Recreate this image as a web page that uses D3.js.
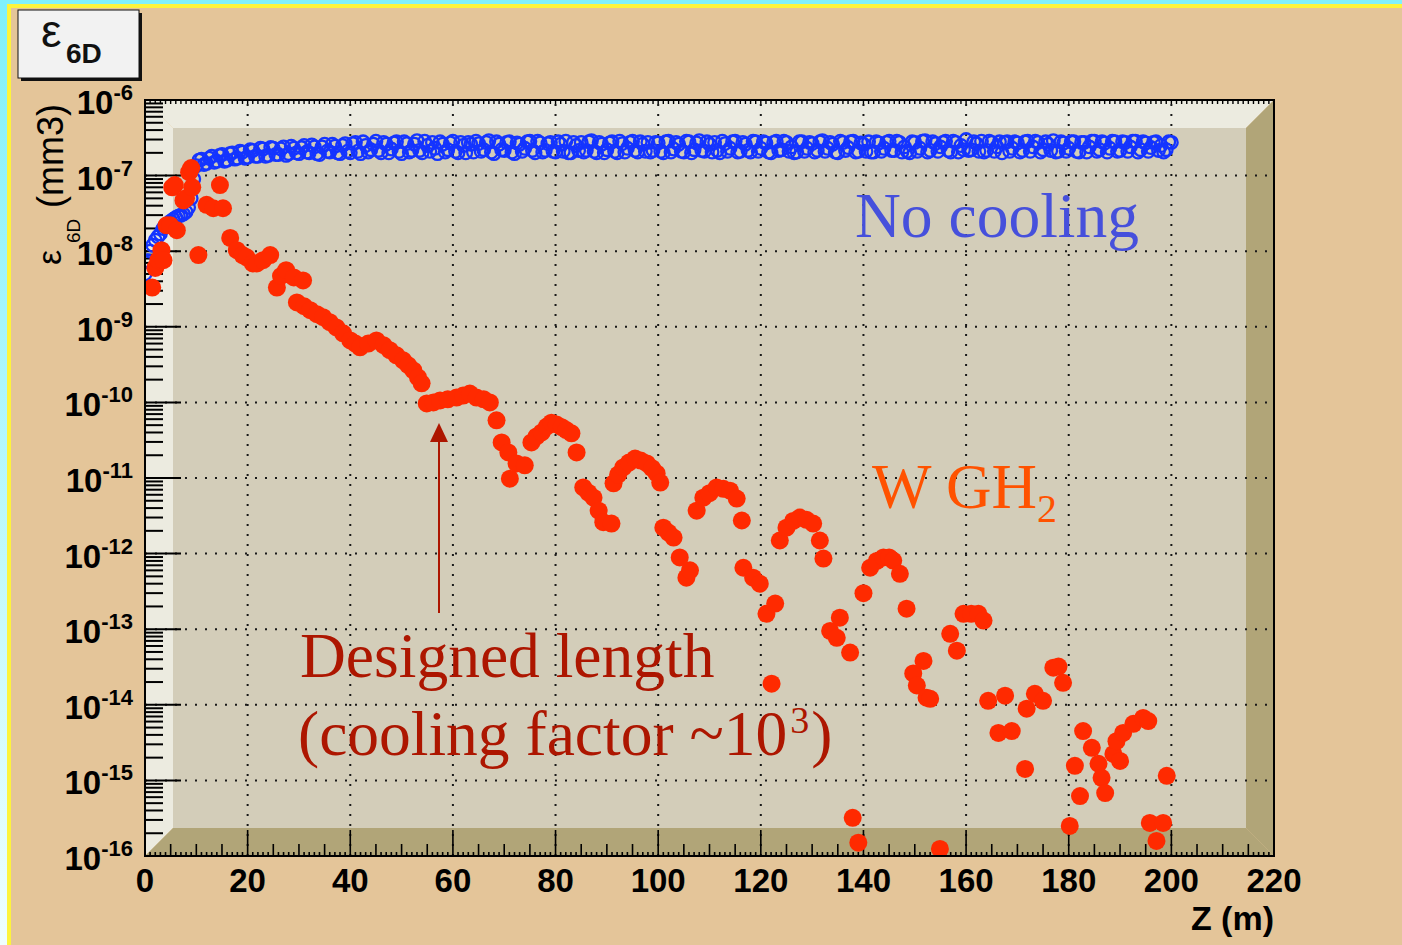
<!DOCTYPE html>
<html>
<head>
<meta charset="utf-8">
<script src="https://cdn.jsdelivr.net/npm/d3@7"></script>
<style>
    body { margin: 0; background: #e4c599; }
    svg { display: block; }
</style>
</head>
<body>
<svg id="chart" width="1402" height="945"></svg>
<script>
// "No cooling" run, samples at z = 0, 1, 2 ... 200
let blueValues = [
    5.0e-9, 1.0e-8, 1.4e-8, 1.7e-8, 2.2e-8, 2.5e-8, 2.8e-8, 3.0e-8, 3.3e-8, 5.0e-8,
    1.35e-7, 1.65e-7, 1.45e-7, 1.8e-7, 1.55e-7, 1.9e-7, 1.6e-7, 2.0e-7, 1.7e-7, 2.05e-7,
    1.75e-7, 2.15e-7, 1.8e-7, 2.25e-7, 1.85e-7, 2.3e-7, 1.9e-7, 2.4e-7, 1.95e-7, 2.3e-7,
    1.95e-7, 2.5e-7, 2.0e-7, 2.4e-7, 1.9e-7, 2.6e-7, 2.05e-7, 2.45e-7, 1.95e-7, 2.65e-7,
    2.0e-7, 2.75e-7, 1.95e-7, 2.5e-7, 2.2e-7, 2.85e-7, 2.0e-7, 2.6e-7, 2.25e-7, 2.8e-7,
    1.95e-7, 2.65e-7, 2.15e-7, 2.9e-7, 2.0e-7, 2.5e-7, 2.75e-7, 1.95e-7, 2.6e-7, 2.2e-7,
    2.85e-7, 2.0e-7, 2.5e-7, 2.75e-7, 2.05e-7, 2.65e-7, 2.2e-7, 2.9e-7, 1.95e-7, 2.6e-7,
    2.15e-7, 2.8e-7, 1.95e-7, 2.6e-7, 2.3e-7, 2.85e-7, 2.0e-7, 2.7e-7, 2.15e-7, 2.75e-7,
    2.05e-7, 2.6e-7, 2.85e-7, 2.0e-7, 2.5e-7, 2.75e-7, 2.15e-7, 2.9e-7, 2.0e-7, 2.6e-7,
    2.2e-7, 2.8e-7, 2.0e-7, 2.65e-7, 2.3e-7, 2.85e-7, 2.05e-7, 2.6e-7, 2.75e-7, 2.15e-7,
    2.7e-7, 2.0e-7, 2.85e-7, 2.25e-7, 2.6e-7, 2.05e-7, 2.8e-7, 2.2e-7, 2.9e-7, 2.1e-7,
    2.6e-7, 2.75e-7, 2.0e-7, 2.65e-7, 2.3e-7, 2.85e-7, 2.1e-7, 2.6e-7, 2.05e-7, 2.8e-7,
    2.3e-7, 2.7e-7, 2.0e-7, 2.85e-7, 2.2e-7, 2.75e-7, 2.4e-7, 2.05e-7, 2.8e-7, 2.3e-7,
    2.65e-7, 2.15e-7, 2.9e-7, 2.3e-7, 2.6e-7, 2.0e-7, 2.75e-7, 2.35e-7, 2.85e-7, 2.1e-7,
    2.6e-7, 2.8e-7, 2.05e-7, 2.7e-7, 2.3e-7, 2.85e-7, 2.15e-7, 2.75e-7, 2.4e-7, 2.0e-7,
    2.75e-7, 2.3e-7, 2.9e-7, 2.15e-7, 2.65e-7, 2.4e-7, 2.85e-7, 2.05e-7, 2.75e-7, 2.5e-7,
    3.0e-7, 2.2e-7, 2.65e-7, 2.85e-7, 2.15e-7, 2.75e-7, 2.4e-7, 2.0e-7, 2.8e-7, 2.3e-7,
    2.7e-7, 2.15e-7, 2.85e-7, 2.4e-7, 2.75e-7, 2.2e-7, 2.6e-7, 2.9e-7, 2.1e-7, 2.7e-7,
    2.3e-7, 2.8e-7, 2.05e-7, 2.75e-7, 2.4e-7, 2.85e-7, 2.2e-7, 2.7e-7, 2.3e-7, 2.8e-7,
    2.15e-7, 2.75e-7, 2.4e-7, 2.85e-7, 2.2e-7, 2.7e-7, 2.35e-7, 2.8e-7, 2.5e-7, 2.2e-7,
    2.75e-7
]
// same run, samples at z = 0.5, 1.5 ... 199.5
let blueHalfValues = [
    7.5e-9, 1.2e-8, 1.55e-8, 2.0e-8, 2.35e-8, 2.65e-8, 2.9e-8, 3.1e-8, 3.8e-8, 9.0e-8,
    1.6e-7, 1.4e-7, 1.7e-7, 1.5e-7, 1.85e-7, 1.55e-7, 1.95e-7, 1.65e-7, 2.1e-7, 1.7e-7,
    2.2e-7, 1.8e-7, 2.3e-7, 1.8e-7, 2.35e-7, 1.9e-7, 2.25e-7, 1.85e-7, 2.45e-7, 2.0e-7,
    2.35e-7, 2.05e-7, 2.55e-7, 1.95e-7, 2.4e-7, 2.1e-7, 2.6e-7, 2.0e-7, 2.5e-7, 2.1e-7,
    2.65e-7, 2.1e-7, 2.8e-7, 2.05e-7, 2.6e-7, 2.15e-7, 2.75e-7, 2.0e-7, 2.7e-7, 2.1e-7,
    2.8e-7, 2.05e-7, 2.6e-7, 2.15e-7, 2.85e-7, 2.1e-7, 2.3e-7, 2.8e-7, 2.05e-7, 2.7e-7,
    2.1e-7, 2.75e-7, 2.0e-7, 2.6e-7, 2.85e-7, 2.1e-7, 2.75e-7, 2.05e-7, 2.8e-7, 2.2e-7,
    2.75e-7, 2.05e-7, 2.7e-7, 2.1e-7, 2.8e-7, 2.15e-7, 2.85e-7, 2.05e-7, 2.65e-7, 2.1e-7,
    2.8e-7, 2.1e-7, 2.0e-7, 2.75e-7, 2.15e-7, 2.05e-7, 2.8e-7, 2.1e-7, 2.75e-7, 2.0e-7,
    2.7e-7, 2.1e-7, 2.85e-7, 2.05e-7, 2.75e-7, 2.15e-7, 2.8e-7, 2.1e-7, 2.05e-7, 2.75e-7,
    2.1e-7, 2.8e-7, 2.05e-7, 2.75e-7, 2.1e-7, 2.85e-7, 2.0e-7, 2.7e-7, 2.15e-7, 2.8e-7,
    2.05e-7, 2.15e-7, 2.85e-7, 2.1e-7, 2.8e-7, 2.05e-7, 2.75e-7, 2.15e-7, 2.85e-7, 2.1e-7,
    2.8e-7, 2.05e-7, 2.75e-7, 2.15e-7, 2.85e-7, 2.1e-7, 2.0e-7, 2.8e-7, 2.1e-7, 2.75e-7,
    2.05e-7, 2.8e-7, 2.1e-7, 2.75e-7, 2.05e-7, 2.85e-7, 2.15e-7, 2.8e-7, 2.05e-7, 2.7e-7,
    2.1e-7, 2.05e-7, 2.8e-7, 2.1e-7, 2.75e-7, 2.15e-7, 2.85e-7, 2.05e-7, 2.1e-7, 2.8e-7,
    2.1e-7, 2.85e-7, 2.05e-7, 2.8e-7, 2.1e-7, 2.75e-7, 2.15e-7, 2.85e-7, 2.05e-7, 2.2e-7,
    2.15e-7, 2.8e-7, 2.1e-7, 2.05e-7, 2.85e-7, 2.1e-7, 2.8e-7, 2.75e-7, 2.1e-7, 2.8e-7,
    2.05e-7, 2.8e-7, 2.1e-7, 2.85e-7, 2.05e-7, 2.8e-7, 2.15e-7, 2.05e-7, 2.8e-7, 2.1e-7,
    2.8e-7, 2.1e-7, 2.75e-7, 2.05e-7, 2.85e-7, 2.1e-7, 2.8e-7, 2.05e-7, 2.85e-7, 2.1e-7,
    2.8e-7, 2.1e-7, 2.85e-7, 2.05e-7, 2.8e-7, 2.1e-7, 2.75e-7, 2.15e-7, 2.05e-7, 2.8e-7
]

// W GH2 run
let redZ = [
    1.4, 2.0, 2.6, 3.2, 3.6, 4.2, 4.9, 5.3, 5.8, 6.2,
    7.5, 8.0, 8.6, 9.0, 9.2, 10.4, 12.0, 13.3, 14.6, 15.2,
    16.6, 17.9, 19.0, 19.8, 21.0, 21.8, 23.0, 24.4, 25.7, 26.5,
    27.5, 29.0, 29.6, 30.8, 31.0, 32.2, 33.5, 34.7, 36.0, 37.3,
    38.6, 40.0, 41.0, 41.9, 43.5, 45.1, 46.5, 47.7, 49.0, 50.3,
    51.3, 52.3, 53.2, 53.9, 54.9, 56.2, 57.5, 59.0, 60.7, 62.0,
    63.3, 64.6, 66.0, 67.2, 68.5, 69.5, 70.8, 71.1, 72.4, 74.0,
    75.3, 76.3, 77.3, 78.3, 79.2, 80.2, 81.2, 82.1, 83.1, 84.1,
    85.4, 86.4, 87.4, 88.4, 89.3, 90.9, 91.3, 92.2, 93.2, 94.3,
    95.5, 96.6, 97.8, 98.8, 99.7, 100.4, 101.0, 102.0, 103.0, 104.2,
    105.5, 106.2, 107.5, 108.8, 110.0, 111.4, 112.7, 114.0, 115.3, 116.3,
    116.6, 118.5, 119.8, 121.1, 122.1, 122.8, 123.7, 125.0, 126.3, 127.6,
    128.9, 130.2, 131.5, 132.2, 133.5, 134.8, 135.4, 137.4, 137.9, 139.0,
    140.0, 141.3, 142.6, 143.9, 145.0, 145.8, 147.1, 148.4, 149.7, 150.4,
    151.7, 152.3, 153.0, 154.9, 156.9, 158.2, 159.5, 161.0, 162.4, 163.4,
    164.3, 166.3, 167.6, 168.9, 171.5, 171.8, 173.4, 175.0, 177.0, 178.0,
    178.9, 180.2, 181.2, 182.2, 182.8, 184.5, 185.8, 186.4, 187.1, 188.7,
    189.3, 190.0, 190.6, 192.6, 194.5, 195.5, 195.8, 197.1, 198.4, 199.1
]
let redValues = [
    3.3e-9, 6.0e-9, 7.6e-9, 1.03e-8, 7.6e-9, 2.2e-8, 2.2e-8, 7.0e-8, 7.5e-8, 1.9e-8,
    4.7e-8, 5.0e-8, 1.11e-7, 1.26e-7, 7.0e-8, 8.9e-9, 4.1e-8, 3.7e-8, 7.5e-8, 3.7e-8,
    1.5e-8, 1.03e-8, 8.9e-9, 8.3e-9, 6.9e-9, 6.9e-9, 7.6e-9, 8.9e-9, 3.3e-9, 4.7e-9,
    5.6e-9, 4.5e-9, 2.1e-9, 4.1e-9, 1.87e-9, 1.66e-9, 1.47e-9, 1.34e-9, 1.15e-9, 9.8e-10,
    8.2e-10, 6.6e-10, 6.0e-10, 5.35e-10, 6.0e-10, 6.6e-10, 5.7e-10, 4.9e-10, 4.2e-10, 3.6e-10,
    3.1e-10, 2.65e-10, 2.14e-10, 1.79e-10, 9.7e-11, 1.0e-10, 1.06e-10, 1.1e-10, 1.16e-10, 1.23e-10,
    1.31e-10, 1.16e-10, 1.1e-10, 1.0e-10, 5.8e-11, 2.95e-11, 2.18e-11, 9.8e-12, 1.56e-11, 1.47e-11,
    2.95e-11, 3.55e-11, 4.0e-11, 4.8e-11, 5.4e-11, 5.1e-11, 4.7e-11, 4.3e-11, 3.9e-11, 2.18e-11,
    7.5e-12, 6.4e-12, 5.5e-12, 3.7e-12, 2.6e-12, 2.5e-12, 8.5e-12, 1.11e-11, 1.38e-11, 1.6e-11,
    1.81e-11, 1.7e-11, 1.56e-11, 1.35e-11, 1.15e-11, 8.7e-12, 2.2e-12, 1.9e-12, 1.63e-12, 8.9e-13,
    4.8e-13, 6.0e-13, 3.7e-12, 5.5e-12, 6.3e-12, 7.5e-12, 7.2e-12, 6.8e-12, 5.35e-12, 2.74e-12,
    6.5e-13, 4.8e-13, 4.0e-13, 1.6e-13, 1.9e-14, 2.18e-13, 1.49e-12, 2.2e-12, 2.7e-12, 3.0e-12,
    2.8e-12, 2.5e-12, 1.49e-12, 8.6e-13, 9.5e-14, 7.7e-14, 1.42e-13, 4.9e-14, 3.2e-16, 1.5e-16,
    3.0e-13, 6.5e-13, 8.0e-13, 8.9e-13, 8.9e-13, 8.1e-13, 5.4e-13, 1.87e-13, 2.6e-14, 1.8e-14,
    3.8e-14, 1.24e-14, 1.2e-14, 1.24e-16, 8.7e-14, 5.2e-14, 1.6e-13, 1.6e-13, 1.6e-13, 1.3e-13,
    1.13e-14, 4.25e-15, 1.32e-14, 4.5e-15, 1.42e-15, 8.9e-15, 1.4e-14, 1.13e-14, 3.1e-14, 3.2e-14,
    1.95e-14, 2.5e-16, 1.56e-15, 6.2e-16, 4.5e-15, 2.7e-15, 1.66e-15, 1.08e-15, 6.8e-16, 2.24e-15,
    3.3e-15, 1.81e-15, 4.25e-15, 5.6e-15, 6.7e-15, 6.1e-15, 2.74e-16, 1.58e-16, 2.74e-16, 1.15e-15
]

let xTicks = [0, 20, 40, 60, 80, 100, 120, 140, 160, 180, 200, 220]
let yExponents = [-16, -15, -14, -13, -12, -11, -10, -9, -8, -7, -6]

let frame = { left: 145, right: 1274, top: 100, bottom: 856 }
let bevel = 28
let sans = "'Liberation Sans', Arial, Helvetica, sans-serif"
let serif = "'Liberation Serif', 'Times New Roman', serif"

let svg = d3.select("#chart")

let x = d3.scaleLinear()
    .domain([0, 220])
    .range([frame.left, frame.right])

let y = d3.scaleLog()
    .domain([1e-16, 1e-6])
    .range([frame.bottom, frame.top])

drawPage()
drawFrame()
drawGrid()
drawTicks()
drawData()
drawLabels()

function drawPage() {
    svg.append("rect")
        .attr("width", 1402).attr("height", 945)
        .attr("fill", "#e4c599")

    let grad = svg.append("defs").append("linearGradient")
        .attr("id", "edge")
        .attr("x1", 0).attr("y1", 0).attr("x2", 0).attr("y2", 1)
    grad.append("stop").attr("offset", 0).attr("stop-color", "#7ff0fb")
    grad.append("stop").attr("offset", 1).attr("stop-color", "#effffe")

    svg.append("rect").attr("x", 0).attr("y", 0).attr("width", 7).attr("height", 945)
        .attr("fill", "url(#edge)")
    svg.append("rect").attr("x", 7).attr("y", 4).attr("width", 4).attr("height", 941)
        .attr("fill", "#fdf43c")
    svg.append("rect").attr("x", 0).attr("y", 0).attr("width", 1402).attr("height", 4)
        .attr("fill", "#80f0fb")
    svg.append("rect").attr("x", 7).attr("y", 4).attr("width", 1395).attr("height", 4)
        .attr("fill", "#fdf43c")

    // title box with shadow
    svg.append("rect").attr("x", 21).attr("y", 13).attr("width", 121).attr("height", 68)
        .attr("fill", "#111")
    svg.append("rect").attr("x", 18).attr("y", 10).attr("width", 121).attr("height", 68)
        .attr("fill", "#f2f2f2").attr("stroke", "#111").attr("stroke-width", 1)
    svg.append("text").attr("x", 41).attr("y", 47)
        .style("font", "46px " + sans).attr("fill", "#111")
        .text("ε")
    svg.append("text").attr("x", 66).attr("y", 63)
        .style("font", "bold 28px " + sans).attr("fill", "#111")
        .text("6D")
}

function drawFrame() {
    let L = frame.left, R = frame.right, T = frame.top, B = frame.bottom
    let g = svg.append("g")
    g.append("rect")
        .attr("x", L + bevel).attr("y", T + bevel)
        .attr("width", R - L - 2 * bevel).attr("height", B - T - 2 * bevel)
        .attr("fill", "#d3cdb9")
    let light = "#ecebe0", dark = "#b1a578"
    let polys = [
        [[L, T], [R, T], [R - bevel, T + bevel], [L + bevel, T + bevel], light],
        [[L, T], [L + bevel, T + bevel], [L + bevel, B - bevel], [L, B], light],
        [[R, T], [R, B], [R - bevel, B - bevel], [R - bevel, T + bevel], dark],
        [[L, B], [L + bevel, B - bevel], [R - bevel, B - bevel], [R, B], dark]
    ]
    g.selectAll("polygon")
        .data(polys)
        .enter()
        .append("polygon")
        .attr("points", d => d.slice(0, 4).map(p => p.join(",")).join(" "))
        .attr("fill", d => d[4])
}

function drawGrid() {
    let g = svg.append("g")
        .attr("stroke", "#1a1a1a")
        .attr("stroke-width", 2)
        .attr("stroke-dasharray", "2,8")

    g.selectAll(".vgrid")
        .data(xTicks.filter(d => d > 0 && d < 220))
        .enter()
        .append("line")
        .attr("x1", d => x(d)).attr("x2", d => x(d))
        .attr("y1", frame.top + 4).attr("y2", frame.bottom)

    g.selectAll(".hgrid")
        .data(yExponents.filter(d => d > -16 && d < -6))
        .enter()
        .append("line")
        .attr("y1", d => y(Math.pow(10, d))).attr("y2", d => y(Math.pow(10, d)))
        .attr("x1", frame.left).attr("x2", frame.right)
}

function drawTicks() {
    let g = svg.append("g").attr("stroke", "#000")

    // log ticks on the left axis
    let yMinor = []
    yExponents.slice(0, -1).forEach(e => {
        for (let k = 2; k <= 9; k++) yMinor.push(k * Math.pow(10, e))
    })
    g.selectAll(".ymaj")
        .data(yExponents)
        .enter()
        .append("line")
        .attr("stroke-width", 2)
        .attr("x1", frame.left).attr("x2", frame.left + 36)
        .attr("y1", d => y(Math.pow(10, d))).attr("y2", d => y(Math.pow(10, d)))
    g.selectAll(".ymin")
        .data(yMinor)
        .enter()
        .append("line")
        .attr("stroke-width", 2)
        .attr("x1", frame.left).attr("x2", frame.left + 18)
        .attr("y1", d => y(d)).attr("y2", d => y(d))

    // bottom and top ticks, every metre
    let metres = d3.range(0, 221)
    g.selectAll(".xt")
        .data(metres)
        .enter()
        .append("line")
        .attr("stroke-width", 1.6)
        .attr("x1", d => x(d)).attr("x2", d => x(d))
        .attr("y1", frame.bottom)
        .attr("y2", d => frame.bottom - (d % 20 === 0 ? 26 : d % 5 === 0 ? 12 : 4))
    g.selectAll(".xtop")
        .data(metres)
        .enter()
        .append("line")
        .attr("stroke-width", 1.4)
        .attr("x1", d => x(d)).attr("x2", d => x(d))
        .attr("y1", frame.top)
        .attr("y2", frame.top + 4)
}

function drawData() {
    svg.append("clipPath").attr("id", "clip")
        .append("rect")
        .attr("x", frame.left).attr("y", frame.top)
        .attr("width", frame.right - frame.left).attr("height", frame.bottom - frame.top)

    let g = svg.append("g").attr("clip-path", "url(#clip)")

    let blue = blueValues.map((v, i) => ({ z: i, v: v }))
        .concat(blueHalfValues.map((v, i) => ({ z: i + 0.5, v: v })))

    g.selectAll(".blue")
        .data(blue)
        .enter()
        .append("circle")
        .attr("cx", d => x(d.z))
        .attr("cy", d => y(d.v))
        .attr("r", 6.3)
        .attr("fill", "none")
        .attr("stroke", "#1434ff")
        .attr("stroke-width", 2.3)

    g.selectAll(".red")
        .data(redValues)
        .enter()
        .append("circle")
        .attr("cx", (d, i) => x(redZ[i]))
        .attr("cy", d => y(d))
        .attr("r", 9)
        .attr("fill", "#ff2a00")

    // frame outline
    svg.append("rect")
        .attr("x", frame.left).attr("y", frame.top)
        .attr("width", frame.right - frame.left).attr("height", frame.bottom - frame.top)
        .attr("fill", "none").attr("stroke", "#000").attr("stroke-width", 2)
}

function drawLabels() {
    // y tick labels 10^n
    let yl = svg.append("g").selectAll("text")
        .data(yExponents)
        .enter()
        .append("text")
        .attr("x", 133)
        .attr("y", d => y(Math.pow(10, d)) + 14)
        .attr("text-anchor", "end")
        .style("font", "bold 33px " + sans)
        .attr("fill", "#000")
    yl.append("tspan").text("10")
    yl.append("tspan").text(d => d).attr("dy", -14).style("font-size", "22px")

    svg.append("g").selectAll("text")
        .data(xTicks)
        .enter()
        .append("text")
        .attr("x", d => x(d))
        .attr("y", 892)
        .attr("text-anchor", "middle")
        .style("font", "bold 33px " + sans)
        .text(d => d)

    svg.append("text")
        .attr("x", frame.right).attr("y", 930)
        .attr("text-anchor", "end")
        .style("font", "bold 34px " + sans)
        .text("Z (m)")

    // y axis title, rotated
    svg.append("text").attr("transform", "translate(61,265) rotate(-90)")
        .style("font", "34px " + sans).text("ε")
    svg.append("text").attr("transform", "translate(80,243) rotate(-90)")
        .style("font", "19px " + sans).text("6D")
    svg.append("text").attr("transform", "translate(63,208) rotate(-90)")
        .style("font", "36px " + sans).text("(mm3)")

    // annotations
    svg.append("text")
        .attr("x", 855).attr("y", 237)
        .style("font", "63.5px " + serif)
        .attr("fill", "#4650dc")
        .text("No cooling")

    let wg = svg.append("text")
        .attr("x", 872).attr("y", 508)
        .style("font", "63px " + serif)
        .attr("fill", "#ff5200")
    wg.append("tspan").text("W GH")
    wg.append("tspan").text("2").attr("dy", 14).style("font-size", "40px")

    let darkRed = "#ad1600"
    svg.append("line")
        .attr("x1", 439).attr("x2", 439)
        .attr("y1", 613).attr("y2", 440)
        .attr("stroke", darkRed).attr("stroke-width", 2)
    svg.append("polygon")
        .attr("points", "439,423 430,442 448,442")
        .attr("fill", darkRed)

    svg.append("text")
        .attr("x", 300).attr("y", 677)
        .style("font", "63.5px " + serif)
        .attr("fill", darkRed)
        .text("Designed length")

    let cf = svg.append("text")
        .attr("x", 298).attr("y", 755)
        .style("font", "63.5px " + serif)
        .attr("fill", darkRed)
    cf.append("tspan").text("(cooling factor ~10")
    cf.append("tspan").text("3").attr("dx", 3).attr("dy", -22).style("font-size", "38px")
    cf.append("tspan").text(")").attr("dx", 2).attr("dy", 22)
}
</script>
</body>
</html>
